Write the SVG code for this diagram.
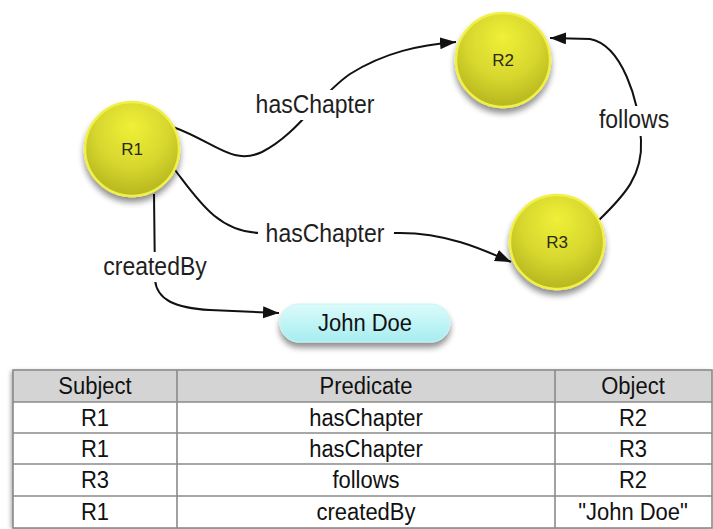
<svg xmlns="http://www.w3.org/2000/svg" width="713" height="529" viewBox="0 0 713 529">
<defs>
<style>
.lbl{font-family:"Liberation Sans",Arial,sans-serif;font-size:23px;fill:#1e1e1e;text-anchor:middle}
.nl{font-family:"Liberation Sans",Arial,sans-serif;font-size:17px;fill:#2a2a14;text-anchor:middle}
.tt{font-family:"Liberation Sans",Arial,sans-serif;font-size:22px;fill:#111;text-anchor:middle}
.edge{fill:none;stroke:#111;stroke-width:2}
.bg{fill:#fff}
.grid{stroke:#8a8a8a;stroke-width:1.6;fill:none}
.sphere{fill:url(#sph);stroke:#f0f046;stroke-width:2.5;filter:url(#sh)}
</style>
<radialGradient id="sph" cx="50%" cy="35%" r="65%" fx="50%" fy="25%">
<stop offset="0" stop-color="#f0f038"/>
<stop offset="0.6" stop-color="#d6d62e"/>
<stop offset="1" stop-color="#b6b620"/>
</radialGradient>
<linearGradient id="pill" x1="0" y1="0" x2="0" y2="1">
<stop offset="0" stop-color="#dcfbfb"/>
<stop offset="1" stop-color="#a6edf0"/>
</linearGradient>
<filter id="sh" x="-30%" y="-30%" width="160%" height="170%">
<feGaussianBlur in="SourceAlpha" stdDeviation="3"/>
<feOffset dx="0" dy="5" result="b"/>
<feComponentTransfer><feFuncA type="linear" slope="0.45"/></feComponentTransfer>
<feMerge><feMergeNode/><feMergeNode in="SourceGraphic"/></feMerge>
</filter>
<filter id="tsh" x="-5%" y="-5%" width="110%" height="115%">
<feGaussianBlur in="SourceAlpha" stdDeviation="2"/>
<feOffset dx="-2" dy="1"/>
<feComponentTransfer><feFuncA type="linear" slope="0.35"/></feComponentTransfer>
<feMerge><feMergeNode/><feMergeNode in="SourceGraphic"/></feMerge>
</filter>
<marker id="arr" markerUnits="userSpaceOnUse" markerWidth="18" markerHeight="14" refX="16" refY="6" orient="auto">
<path d="M0,0 L16,6 L0,12 z" fill="#111"/>
</marker>
</defs>
<rect width="713" height="529" fill="#fff"/>

<g id="connectors">
<path class="edge" marker-end="url(#arr)" d="M173,127 C215,142 232,166 262,152 C298,134 318,96 350,74 C385,52 420,45 456,42"/>
<path class="edge" marker-end="url(#arr)" d="M175,170 C198,200 218,232 260,233 L400,233 C445,233 480,248 511,262"/>
<path class="edge" marker-end="url(#arr)" d="M154,194 L155,280 C157,300 175,308 210,310 L279,313"/>
<path class="edge" marker-end="url(#arr)" d="M598,221 C625,195 643,175 641,140 C639,100 622,45 590,39 L550,38"/>
<rect class="bg" x="248" y="90" width="134" height="30"/>
<text class="lbl" transform="translate(315,113) scale(1,1.1)">hasChapter</text>
<rect class="bg" x="258" y="218" width="136" height="30"/>
<text class="lbl" transform="translate(325,242) scale(1,1.1)">hasChapter</text>
<rect class="bg" x="96" y="252" width="118" height="30"/>
<text class="lbl" transform="translate(155,275) scale(1,1.1)">createdBy</text>
<rect class="bg" x="594" y="106" width="82" height="30"/>
<text class="lbl" transform="translate(634,128) scale(1,1.1)">follows</text>
</g>

<g id="R1">
<circle class="sphere" cx="132" cy="149" r="47"/>
<text class="nl" x="132" y="155">R1</text>
</g>
<g id="R2">
<circle class="sphere" cx="503" cy="60" r="47"/>
<text class="nl" x="503" y="66">R2</text>
</g>
<g id="R3">
<circle class="sphere" cx="557" cy="242" r="47"/>
<text class="nl" x="557" y="248">R3</text>
</g>
<g id="JohnDoe">
<rect x="280" y="304" width="170" height="38" rx="19" fill="url(#pill)" stroke="#c8f4f6" stroke-width="1" filter="url(#sh)"/>
<text class="tt" transform="translate(365,331) scale(1,1.1)">John Doe</text>
</g>

<g id="table">
<rect x="13" y="370" width="699" height="158" fill="#fff" filter="url(#tsh)"/>
<rect x="13" y="370" width="699" height="32" fill="#d4d4d4"/>
<rect class="grid" x="13" y="370" width="699" height="158"/>
<line class="grid" x1="13" y1="402" x2="712" y2="402"/>
<line class="grid" x1="13" y1="433" x2="712" y2="433"/>
<line class="grid" x1="13" y1="464" x2="712" y2="464"/>
<line class="grid" x1="13" y1="496" x2="712" y2="496"/>
<line class="grid" x1="177" y1="370" x2="177" y2="528"/>
<line class="grid" x1="555" y1="370" x2="555" y2="528"/>
<text class="tt" transform="translate(95,394) scale(1,1.12)">Subject</text>
<text class="tt" transform="translate(366,394) scale(1,1.12)">Predicate</text>
<text class="tt" transform="translate(633,394) scale(1,1.12)">Object</text>
<text class="tt" transform="translate(95,426) scale(1,1.12)">R1</text>
<text class="tt" transform="translate(366,426) scale(1,1.12)">hasChapter</text>
<text class="tt" transform="translate(633,426) scale(1,1.12)">R2</text>
<text class="tt" transform="translate(95,457) scale(1,1.12)">R1</text>
<text class="tt" transform="translate(366,457) scale(1,1.12)">hasChapter</text>
<text class="tt" transform="translate(633,457) scale(1,1.12)">R3</text>
<text class="tt" transform="translate(95,488) scale(1,1.12)">R3</text>
<text class="tt" transform="translate(366,488) scale(1,1.12)">follows</text>
<text class="tt" transform="translate(633,488) scale(1,1.12)">R2</text>
<text class="tt" transform="translate(95,520) scale(1,1.12)">R1</text>
<text class="tt" transform="translate(366,520) scale(1,1.12)">createdBy</text>
<text class="tt" transform="translate(633,520) scale(1,1.12)">"John Doe"</text>
</g>
</svg>
